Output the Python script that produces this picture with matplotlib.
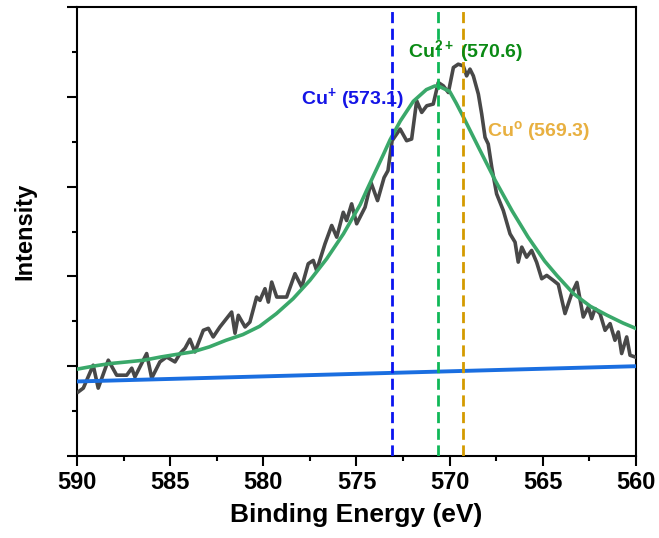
import numpy as np
import matplotlib
matplotlib.use("Agg")
import matplotlib.pyplot as plt
from matplotlib.ticker import MultipleLocator, NullFormatter

# measured spectrum (binding energy in eV, intensity in arb. units)
energy = [589.93, 589.66, 589.13, 588.86, 588.32, 587.87, 587.33, 587.06, 586.89, 586.26,
          585.99, 585.55, 585.19, 584.74, 584.47, 584.20, 583.94, 583.67, 583.22, 582.95,
          582.69, 582.33, 581.70, 581.52, 581.34, 580.98, 580.72, 580.36, 580.18, 579.91,
          579.73, 579.55, 579.28, 578.75, 578.30, 577.94, 577.59, 577.32, 577.14, 576.69,
          576.33, 576.06, 575.71, 575.53, 575.26, 574.99, 574.54, 574.22, 573.87, 573.52,
          573.31, 573.09, 572.66, 572.31, 572.04, 571.77, 571.50, 571.23, 570.88, 570.61,
          570.34, 570.07, 569.80, 569.54, 569.27, 569.09, 568.91, 568.73, 568.46, 568.28,
          568.10, 567.93, 567.74, 567.48, 567.12, 566.76, 566.49, 566.32, 566.13, 565.87,
          565.60, 565.33, 565.06, 564.79, 564.44, 564.17, 563.81, 563.45, 563.17, 562.83,
          562.56, 562.38, 562.20, 561.93, 561.66, 561.39, 561.13, 560.95, 560.77, 560.50,
          560.32, 560.05]
intensity = [0.714, 0.756, 1.011, 0.756, 1.067, 0.900, 0.900, 0.978, 0.881, 1.141,
             0.867, 1.048, 1.103, 1.048, 1.141, 1.200, 1.300, 1.159, 1.400, 1.422,
             1.326, 1.437, 1.603, 1.367, 1.567, 1.437, 1.492, 1.770, 1.733, 1.863,
             1.714, 1.937, 1.770, 1.770, 2.030, 1.881, 2.141, 2.178, 2.067, 2.363,
             2.567, 2.437, 2.714, 2.622, 2.808, 2.586, 2.770, 3.044, 2.844, 3.100,
             3.178, 3.511, 3.641, 3.511, 3.530, 3.956, 3.826, 3.900, 3.919, 4.159,
             4.122, 4.048, 4.326, 4.363, 4.344, 4.233, 4.308, 4.233, 4.030, 3.808,
             3.548, 3.474, 3.214, 2.919, 2.733, 2.474, 2.381, 2.159, 2.326, 2.214,
             2.289, 2.156, 1.974, 2.011, 1.956, 1.911, 1.586, 1.808, 1.933, 1.548,
             1.659, 1.530, 1.641, 1.586, 1.400, 1.474, 1.289, 1.381, 1.141, 1.326,
             1.122, 1.103]

# fitted envelope
fit_energy = [590.0, 589.0, 588.2, 587.3, 586.4, 585.5, 584.7, 583.8, 582.9, 582.0,
              581.1, 580.2, 579.3, 578.4, 577.5, 576.6, 575.7, 574.8, 574.45, 573.55,
              573.2, 572.65, 571.95, 571.25, 570.8, 570.6, 570.0, 569.65, 569.3, 568.45,
              567.55, 566.65, 565.8, 564.9, 564.25, 563.35, 562.45, 561.55, 560.7, 560.0]
fit_intensity = [0.967, 1.005, 1.03, 1.048, 1.067, 1.103, 1.13, 1.159, 1.215, 1.289,
                 1.352, 1.444, 1.585, 1.752, 1.956, 2.196, 2.474, 2.80, 2.96, 3.36,
                 3.52, 3.73, 3.95, 4.08, 4.12, 4.12, 4.06, 3.93, 3.79, 3.437,
                 3.067, 2.73, 2.44, 2.17, 2.011, 1.807, 1.667, 1.567, 1.481, 1.42]

# background
bg_energy = [590, 560]
bg_intensity = [0.83, 1.0]

peak_pos = [573.1, 570.6, 569.3]
peak_line_colors = ["#0a14f0", "#10b858", "#d49a00"]
peak_labels = ["Cu$^{+}$ (573.1)", "Cu$^{2+}$ (570.6)", "Cu$^{o}$ (569.3)"]
peak_text_colors = ["#1414e6", "#0a8a14", "#e8b040"]
label_xy = [(578.0, 3.98), (572.25, 4.51), (568.0, 3.62)]

plt.rcParams["font.family"] = ["Liberation Sans", "DejaVu Sans"]
plt.rcParams["font.weight"] = "bold"
plt.rcParams["mathtext.fontset"] = "custom"
plt.rcParams["mathtext.rm"] = "Liberation Sans:bold"
plt.rcParams["mathtext.it"] = "Liberation Sans:bold"
plt.rcParams["mathtext.bf"] = "Liberation Sans:bold"

fig = plt.figure(figsize=(6.59, 5.38), dpi=100)
ax = fig.add_axes([0.1168, 0.1524, 0.8483, 0.8346])

ax.plot(energy, intensity, color="#484848", lw=2.6, zorder=3)
ax.plot(bg_energy, bg_intensity, color="#1a6ee0", lw=2.8, zorder=4)
ax.plot(fit_energy, fit_intensity, color="#3aa86a", lw=2.6, zorder=5)

for p, c in zip(peak_pos, peak_line_colors):
    ax.axvline(p, color=c, lw=2.0, ls=(0, (4, 2)), zorder=6)

for t, c, (x, y) in zip(peak_labels, peak_text_colors, label_xy):
    ax.text(x, y, t, color=c, fontsize=14, fontweight="bold", ha="left", va="center", zorder=7)

ax.set_xlim(590, 560)
ax.set_ylim(0, 5)
ax.xaxis.set_major_locator(MultipleLocator(5))
ax.xaxis.set_minor_locator(MultipleLocator(2.5))
ax.yaxis.set_major_locator(MultipleLocator(1))
ax.yaxis.set_minor_locator(MultipleLocator(0.5))
ax.yaxis.set_major_formatter(NullFormatter())
ax.tick_params(which="major", length=7, width=1.5, direction="out", labelsize=17, pad=4)
ax.tick_params(which="minor", length=3.5, width=1.5, direction="out")
for s in ax.spines.values():
    s.set_linewidth(1.5)

ax.set_xlabel("Binding Energy (eV)", fontsize=19, fontweight="bold", labelpad=6)
ax.set_ylabel("Intensity", fontsize=17, fontweight="bold", labelpad=18)

fig.savefig("out.png", dpi=100)
